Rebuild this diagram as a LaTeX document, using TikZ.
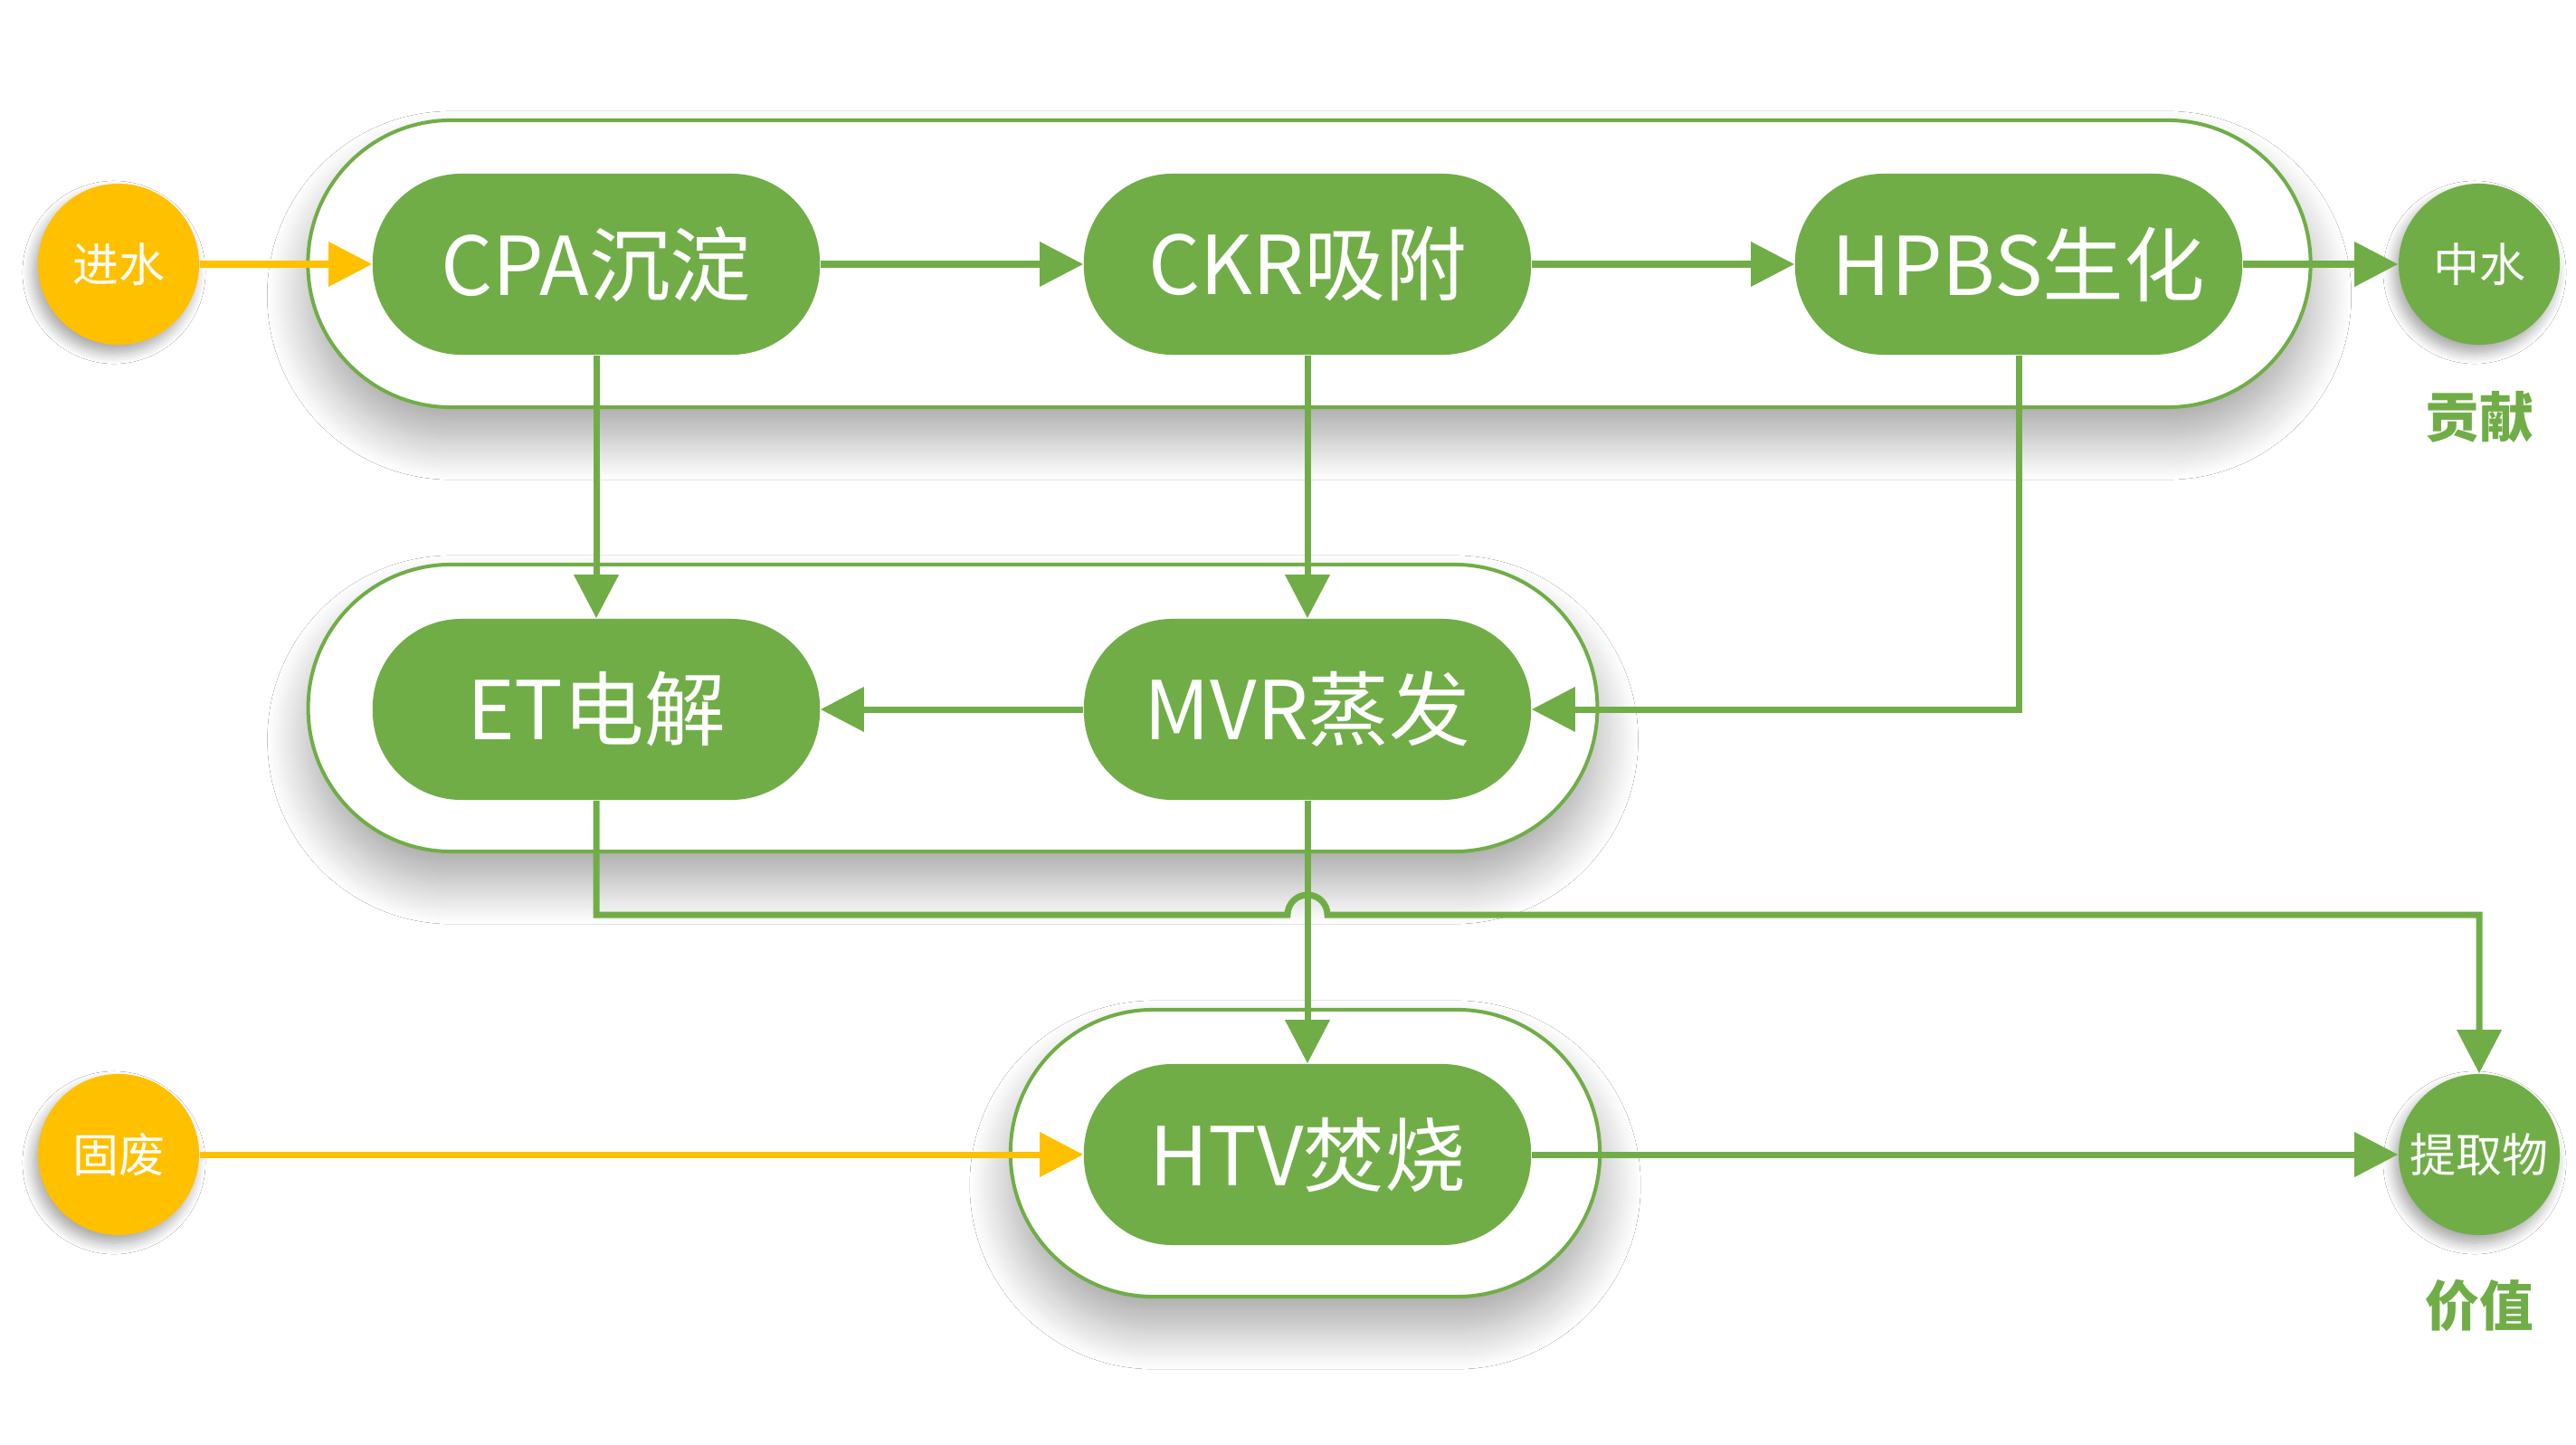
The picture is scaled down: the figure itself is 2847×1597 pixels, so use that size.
\documentclass[tikz,border=0pt]{standalone}
\usepackage{fontspec}
\setmainfont{Noto Sans CJK SC}
\usetikzlibrary{arrows.meta,shadows.blur}
\definecolor{gr}{HTML}{70AD47}
\definecolor{yl}{HTML}{FFC000}
\begin{document}
\begin{tikzpicture}[x=0.01cm,y=-0.01cm,
  container/.style={draw=gr, line width=0.04cm, fill=white, rounded corners=1.58cm,
    minimum height=3.17cm, inner sep=0pt,
    blur shadow={shadow xshift=0cm, shadow yshift=-0.35cm, shadow blur radius=0.45cm,
      shadow blur steps=24, shadow opacity=35}},
  proc/.style={fill=gr, text=white, rounded corners=0.98cm, minimum width=4.94cm,
    minimum height=2cm, inner sep=0pt, font=\fontsize{25.5}{30}\selectfont},
  endpt/.style={circle, minimum size=1.78cm, inner sep=0pt, text=white,
    font=\fontsize{14.5}{17}\selectfont,
    blur shadow={shadow xshift=-0.05cm, shadow yshift=-0.09cm, shadow blur radius=0.12cm,
      shadow blur steps=12, shadow opacity=35}},
  src/.style={endpt, fill=yl},
  dst/.style={endpt, fill=gr},
  caption/.style={text=gr, font=\bfseries\fontsize{17}{20}\selectfont},
  flow/.style={draw=gr, line width=0.07cm, -{Triangle[length=0.48cm,width=0.48cm]}},
  inflow/.style={flow, draw=yl}
]
\fill[white] (0,0) rectangle (2847,1597);
\useasboundingbox (0,0) rectangle (2847,1597);

% containers
\node[container, minimum width=22.12cm] (c1) at (1447,291.5) {};
\node[container, minimum width=14.24cm] (c2) at (1053,782.5) {};
\node[container, minimum width=6.51cm] (c3) at (1442.5,1274.5) {};

% process nodes
\node[proc] (cpa) at (659,292) {CPA沉淀};
\node[proc] (ckr) at (1445,292) {CKR吸附};
\node[proc] (hpbs) at (2231,292) {HPBS生化};
\node[proc] (et) at (659,784) {ET电解};
\node[proc] (mvr) at (1445,784) {MVR蒸发};
\node[proc] (htv) at (1445,1276) {HTV焚烧};

% end points
\node[src] (jinshui) at (131,292) {进水};
\node[src] (gufei) at (131,1276) {固废};
\node[dst] (zhongshui) at (2740,292) {中水};
\node[dst] (tiqu) at (2740,1276) {提取物};
\node[caption] (gongxian) at (2740,461) {贡献};
\node[caption] (jiazhi) at (2740,1443) {价值};

% connectors
\draw[inflow] (jinshui) -- (cpa);
\draw[inflow] (gufei) -- (htv);
\draw[flow] (cpa) -- (ckr);
\draw[flow] (ckr) -- (hpbs);
\draw[flow] (hpbs) -- (zhongshui);
\draw[flow] (cpa) -- (et);
\draw[flow] (ckr) -- (mvr);
\draw[flow] (hpbs.south) |- (mvr.east);
\draw[flow] (mvr) -- (et);
\draw[flow] (mvr) -- (htv);
\draw[flow] (htv) -- (tiqu);
\coordinate (hopL) at (1423,1011);
\draw[flow] (et.south) -- (et.south |- hopL) -- (hopL)
  arc[start angle=180, end angle=0, radius=0.22cm] -- (tiqu.north |- hopL) -- (tiqu.north);
\end{tikzpicture}
\end{document}
